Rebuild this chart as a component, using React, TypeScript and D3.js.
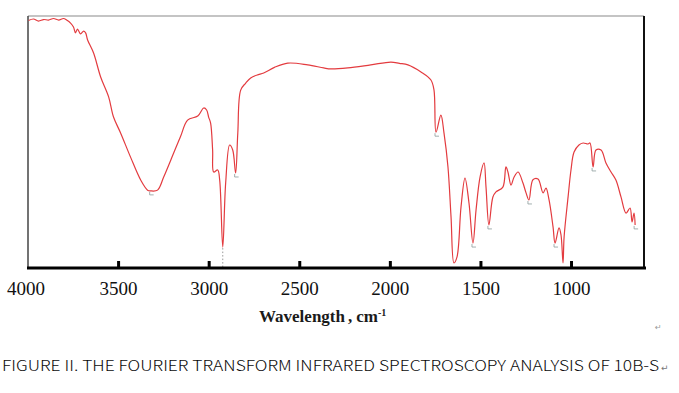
import React from 'react';
import * as d3 from 'd3';

// wavenumber (cm-1) and transmittance (%)
const wavenumbers = [
  3997, 3970, 3942, 3914, 3887, 3859, 3831, 3804, 3787, 3765, 3749, 3738, 3727, 3710, 3693, 3682,
  3671, 3638, 3599, 3555, 3528, 3489, 3434, 3378, 3340, 3323, 3285, 3251, 3196, 3157, 3119, 3063,
  3030, 3014, 3003, 2992, 2981, 2975, 2953, 2942, 2925, 2909, 2887, 2870, 2854, 2842, 2826, 2798,
  2771, 2735, 2699, 2640, 2566, 2456, 2368, 2329, 2235, 2108, 1997, 1950, 1903, 1831, 1776, 1759,
  1748, 1721, 1704, 1682, 1665, 1649, 1632, 1610, 1588, 1566, 1544, 1527, 1505, 1483, 1472, 1456,
  1434, 1417, 1379, 1362, 1351, 1334, 1317, 1295, 1268, 1251, 1235, 1213, 1185, 1157, 1141, 1124,
  1102, 1091, 1069, 1058, 1047, 1041, 1019, 1003, 986, 959, 936, 909, 898, 881, 865, 837,
  810, 782, 755, 727, 699, 677, 666, 655, 649,
];
const transmittance = [
  98.2, 98.8, 98.0, 98.6, 98.4, 99.0, 98.4, 99.0, 98.4, 97.2, 95.6, 93.3, 94.8, 92.9, 94.0, 93.3,
  90.5, 85.3, 75.8, 67.9, 59.9, 53.6, 44.0, 34.9, 30.9, 30.6, 30.9, 36.1, 45.6, 52.4, 58.7, 60.3,
  63.5, 62.7, 59.9, 57.5, 46.8, 38.1, 38.9, 34.9, 8.3, 33.7, 48.8, 46.8, 37.7, 53.6, 70.6, 73.4,
  75.4, 76.6, 77.4, 79.6, 81.3, 80.6, 79.4, 79.0, 79.4, 80.6, 81.7, 81.2, 80.6, 77.8, 74.6, 70.6,
  53.9, 60.7, 53.6, 40.1, 20.2, 2.0, 4.4, 24.2, 35.7, 25.8, 9.9, 23.0, 36.1, 41.7, 32.1, 17.1,
  28.2, 30.2, 32.1, 40.1, 38.1, 32.9, 36.1, 38.1, 33.7, 29.8, 27.0, 35.0, 35.3, 29.8, 31.7, 27.0,
  16.3, 9.9, 15.9, 13.1, 2.0, 12.3, 28.2, 38.9, 46.0, 48.8, 49.6, 49.2, 49.6, 40.1, 46.8, 46.8,
  41.7, 38.1, 34.9, 28.2, 21.8, 23.8, 18.3, 21.8, 17.1,
];
const xTicks = [4000, 3500, 3000, 2500, 2000, 1500, 1000];
// small grey peak markers left in the original figure
const peakMarks = [3323, 2854, 1748, 1544, 1456, 1235, 1091, 881, 649];

const W = 679;
const H = 393;

export default function App() {
  const left = 28;
  const right = 644;
  const top = 16;
  const bottom = 268;

  const x = d3.scaleLinear().domain([4000, 600]).range([left, right]);
  const y = d3.scaleLinear().domain([0, 100]).range([bottom, top]);

  const pts = wavenumbers.map((w, i) => [w, transmittance[i]] as [number, number]);
  const line = d3
    .line<[number, number]>()
    .x((d) => x(d[0]))
    .y((d) => y(d[1]))
    .curve(d3.curveCatmullRom.alpha(0.5));

  const tOf = (w: number) => transmittance[wavenumbers.indexOf(w)];

  return (
    <svg width={W} height={H} style={{ position: 'absolute', left: 0, top: 0, background: '#fff' }}>
      {/* frame */}
      <line x1={left} x2={right} y1={top} y2={top} stroke="#8a8a8a" strokeWidth={1.2} />
      <line x1={left} x2={left} y1={top} y2={bottom} stroke="#444" strokeWidth={1.5} />
      <line x1={right} x2={right} y1={top} y2={bottom} stroke="#111" strokeWidth={2} />

      {/* spectrum */}
      <path d={line(pts) ?? ''} fill="none" stroke="#e33b3f" strokeWidth={1.2} strokeLinejoin="round" />

      {/* grey marks */}
      <line x1={x(2925)} x2={x(2925)} y1={y(tOf(2925)) + 1} y2={bottom} stroke="#999" strokeWidth={1} strokeDasharray="1.5,2" />
      {peakMarks.map((w) => (
        <path
          key={w}
          d={`M${x(w) - 1},${y(tOf(w)) + 1} l0,3 l4,0`}
          fill="none"
          stroke="#8a9a9a"
          strokeWidth={0.8}
        />
      ))}

      {/* x axis */}
      <line x1={left - 1} x2={right + 2} y1={bottom} y2={bottom} stroke="#000" strokeWidth={3} />
      {xTicks.map((t) => (
        <g key={t}>
          {t !== 4000 && (
            <line x1={x(t)} x2={x(t)} y1={bottom - 7} y2={bottom} stroke="#000" strokeWidth={3} />
          )}
          <text
            x={t === 4000 ? x(t) - 2 : x(t)}
            y={295}
            textAnchor="middle"
            fontFamily="'Liberation Serif', serif"
            fontSize={19}
            fill="#111"
          >
            {t}
          </text>
        </g>
      ))}
      <text x={259} y={322} fontFamily="'Liberation Serif', serif" fontWeight="bold" fontSize={17} fill="#1a1a1a">
        Wavelength
        <tspan dx={3}>,</tspan>
        <tspan dx={4}>cm</tspan>
        <tspan fontSize={10} dy={-6}>-1</tspan>
      </text>

      <text x={655} y={330} fontFamily="'DejaVu Sans'" fontSize={8} fill="#999">↵</text>

      {/* caption */}
      <text
        x={2}
        y={371}
        fontFamily="'Noto Sans CJK SC', 'Noto Sans'"
        fontSize={15}
        fontWeight={300}
        fill="#0a0a0a"
        textLength={657}
        lengthAdjust="spacingAndGlyphs"
      >
        FIGURE II. THE FOURIER TRANSFORM INFRARED SPECTROSCOPY ANALYSIS OF 10B-S
      </text>
      <text x={661} y={371} fontFamily="'DejaVu Sans'" fontSize={9} fill="#777">↵</text>
    </svg>
  );
}
